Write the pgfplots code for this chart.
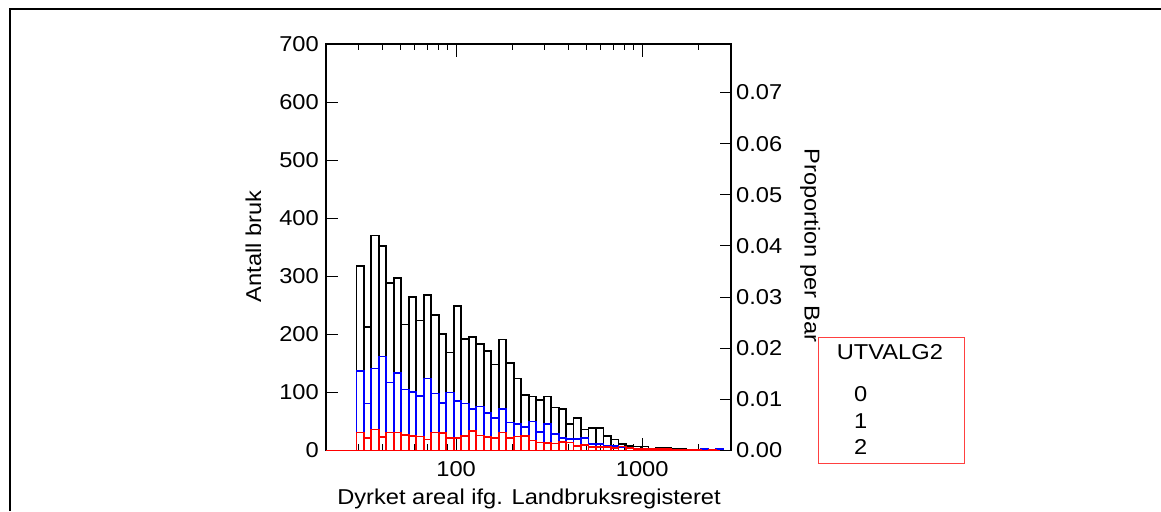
\documentclass[border=0pt]{standalone}
\usepackage{pgfplots}
\pgfplotsset{compat=1.18}
\usepackage{pgfplotstable}
\usepackage{fontspec}
\setmainfont{Liberation Sans}[FakeStretch=1.1]

\pgfplotstableread{
x k b r
29.11 318 137 31
31.94 213 81 22
35.04 370 141 36
38.44 352 162 23
42.18 288 117 31
46.27 297 133 31
50.77 217 105 27
55.70 264 101 25
61.11 224 94 24
67.04 268 124 19
73.56 233 98 31
80.70 201 82 30
88.54 169 100 22
97.14 249 85 22
106.57 192 81 25
116.92 196 72 33
128.28 183 76 26
140.74 171 64 23
154.41 148 56 21
169.41 191 72 31
185.87 151 48 21
203.92 124 46 24
223.73 96 41 25
245.46 93 50 17
269.30 87 32 14
295.46 93 46 13
324.16 74 29 12
355.65 71 22 15
390.19 46 20 14
428.09 56 20 8
469.67 36 21 9
515.29 39 11 6
565.34 39 11 6
620.25 25 8 6
680.50 19 8 4
746.60 11 6 7
819.12 8 4 4
898.68 7 3 3
985.97 7 2 3
1081.74 3 2 2
1186.81 5 2 3
1302.09 4 1 2
1428.56 2 1 1
1567.32 2 1 1
1719.56 1 1 1
1886.58 1 0 1
2069.83 1 2 0
2270.88 0 0 1
2491.45 1 2 0
2733.45 0 0 0
2998.95 0 0 0
}\hist

\begin{document}
\fontsize{21.5}{26}\selectfont
\begin{tikzpicture}[x=1pt,y=1pt]
\path[use as bounding box] (0,0) rectangle (1161,511);
\draw[line width=2pt] (10,0) -- (10,502) -- (1161,502);

\begin{axis}[
  at={(326pt,60.5pt)}, anchor=south west,
  scale only axis, width=405pt, height=406.5pt,
  xmode=log, xmin=20, xmax=3000, ymin=0, ymax=700,
  xtick={100,1000}, xticklabels={100,1000},
  minor xtick={30,40,50,60,70,80,90,200,300,400,500,600,700,800,900,2000},
  ytick={0,100,...,700}, ytick pos=left,
  tick align=inside, major tick length=12.5pt, minor tick length=6pt,
  tick style={black, line width=1pt},
  axis line style={black, line width=1.3pt},
  /pgf/number format/assume math mode=true,
  yticklabel style={inner sep=7pt},
  xticklabel style={yshift=-4pt},
]
\addplot[ybar interval, draw=black, fill=none, line width=1.7pt] table[x=x,y=k] {\hist};
\addplot[ybar interval, draw=blue, fill=none, line width=1.7pt] table[x=x,y=b] {\hist};
\addplot[ybar interval, draw=red, fill=none, line width=1.7pt] table[x=x,y=r] {\hist};
\draw[red, line width=1.7pt] (rel axis cs:0,0) -- (rel axis cs:1,0);
\end{axis}

\begin{axis}[
  at={(326pt,60.5pt)}, anchor=south west,
  scale only axis, width=405pt, height=406.5pt,
  xmode=log, xmin=20, xmax=3000, ymin=0, ymax=0.0795,
  hide x axis,
  ytick={0,0.01,...,0.071}, ytick pos=right,
  scaled y ticks=false,
  tick align=inside, major tick length=11pt,
  tick style={black, line width=1pt},
  axis line style={black, line width=1.3pt},
  /pgf/number format/assume math mode=true,
  /pgf/number format/fixed, /pgf/number format/fixed zerofill, /pgf/number format/precision=2,
  yticklabel style={inner sep=5pt},
]
\end{axis}

\node[rotate=90, anchor=base] at (261,264.5) {Antall bruk};
\node[rotate=-90, anchor=base] at (804.5,265.5) {Proportion per Bar};
\node[anchor=base] at (529,7) {Dyrket areal ifg. Landbruksregisteret};

\draw[red!75, line width=1pt] (818.3,47.7) rectangle (964,173.7);
\node[anchor=base west, inner sep=0] at (836.7,151.7) {UTVALG2};
\node[anchor=base west, inner sep=0] at (854,109.3) {0};
\node[anchor=base west, inner sep=0] at (854,82.7) {1};
\node[anchor=base west, inner sep=0] at (854,56.7) {2};
\end{tikzpicture}
\end{document}
